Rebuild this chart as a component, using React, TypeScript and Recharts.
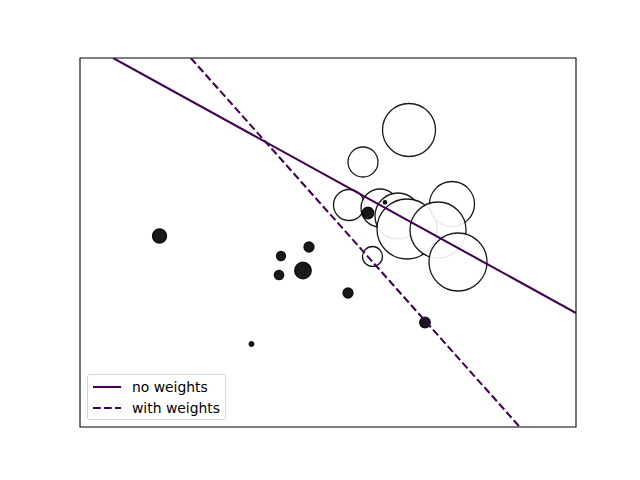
import React from "react";
import { ScatterChart, Scatter, XAxis, YAxis, ZAxis, ReferenceArea } from "recharts";

// Samples of class +1 (light markers)
const posX = [1.97, 1.135, 0.881, 1.444, 1.77, 1.933, 2.75, 2.496, 2.859, 1.307];
const posY = [3.244, 2.463, 1.415, 1.341, 1.146, 0.829, 1.439, 0.805, 0.024, 0.159];
const posW = [1456, 467, 498, 749, 1097, 1867, 1050, 1626, 1744, 207];

// Samples of class -1 (dark markers)
const negX = [-2.557, -0.353, 0.155, 0.046, -0.389, 0.863, -0.888, 2.26, 1.226, 1.534];
const negY = [0.658, 0.171, 0.39, -0.183, -0.293, -0.732, -1.976, -1.451, 1.219, 1.48];
const negW = [102, 42, 52, 143, 46, 52, 11, 58, 70, 6];

// Decision boundaries (endpoints on the plot frame)
const noWeightsX = [-3.4, 5];
const noWeightsY = [5, -1.22];
const withWeightsX = [-1.99, 3.98];
const withWeightsY = [5, -4];

const legendLabels = ["no weights", "with weights"];

const DOMAIN: [number, number] = [-4, 5];
const LINE_COLOR = "#440154";
const LINE_WIDTH = 2.08;
const DASH = "7.7 3.33";

const toPoints = (xs: number[], ys: number[], ws?: number[]) =>
  xs.map((x, i) => ({ x, y: ys[i], w: ws ? ws[i] : 0 }));

const posData = toPoints(posX, posY, posW);
const negData = toPoints(negX, negY, negW);
const line1 = toPoints(noWeightsX, noWeightsY);
const line2 = toPoints(withWeightsX, withWeightsY);

const W_MAX = 2000;
// matplotlib marker area s (pt^2) -> px^2 area at 100 dpi
const AREA_FACTOR = (Math.PI / 4) * (100 / 72) * (100 / 72);

export default function App() {
  return (
    <div style={{ position: "absolute", left: 0, top: 0, width: 640, height: 480, background: "#fff" }}>
      <ScatterChart width={640} height={480} margin={{ top: 58, right: 64, bottom: 53, left: 80 }}>
        <XAxis type="number" dataKey="x" domain={DOMAIN} hide allowDataOverflow />
        <YAxis type="number" dataKey="y" domain={DOMAIN} hide allowDataOverflow />
        <ZAxis type="number" dataKey="w" domain={[0, W_MAX]} range={[0, W_MAX * AREA_FACTOR]} />
        <Scatter
          data={posData}
          shape="circle"
          fill="#ffffff"
          fillOpacity={0.9}
          stroke="#000"
          strokeOpacity={0.9}
          strokeWidth={1.3}
          isAnimationActive={false}
        />
        <Scatter
          data={negData}
          shape="circle"
          fill="#000000"
          fillOpacity={0.9}
          stroke="#000"
          strokeOpacity={0.9}
          strokeWidth={1.3}
          isAnimationActive={false}
        />
        <Scatter
          data={line1}
          shape={() => null}
          line={{ stroke: LINE_COLOR, strokeWidth: LINE_WIDTH }}
          lineType="joint"
          isAnimationActive={false}
        />
        <Scatter
          data={line2}
          shape={() => null}
          line={{ stroke: LINE_COLOR, strokeWidth: LINE_WIDTH, strokeDasharray: DASH }}
          lineType="joint"
          isAnimationActive={false}
        />
        <ReferenceArea
          x1={-4}
          x2={5}
          y1={-4}
          y2={5}
          fill="none"
          fillOpacity={0}
          stroke="#000"
          strokeWidth={1.1}
          ifOverflow="visible"
        />
      </ScatterChart>
      <div
        style={{
          position: "absolute",
          left: 87,
          top: 374,
          width: 137,
          height: 44,
          border: "1px solid #d6d6d6",
          borderRadius: 3,
          background: "rgba(255,255,255,0.8)",
          fontFamily: "'DejaVu Sans', sans-serif",
          fontSize: 13.9,
          color: "#000",
        }}
      >
        {legendLabels.map((label, i) => (
          <div key={label} style={{ position: "absolute", left: 5, top: i === 0 ? 2 : 22.5, height: 20, display: "flex", alignItems: "center", whiteSpace: "nowrap" }}>
            <svg width={28} height={4} style={{ display: "block" }}>
              <line
                x1={0}
                y1={2}
                x2={28}
                y2={2}
                stroke={LINE_COLOR}
                strokeWidth={LINE_WIDTH}
                strokeDasharray={i === 1 ? DASH : undefined}
              />
            </svg>
            <span style={{ marginLeft: 11, lineHeight: "20px" }}>{label}</span>
          </div>
        ))}
      </div>
    </div>
  );
}
